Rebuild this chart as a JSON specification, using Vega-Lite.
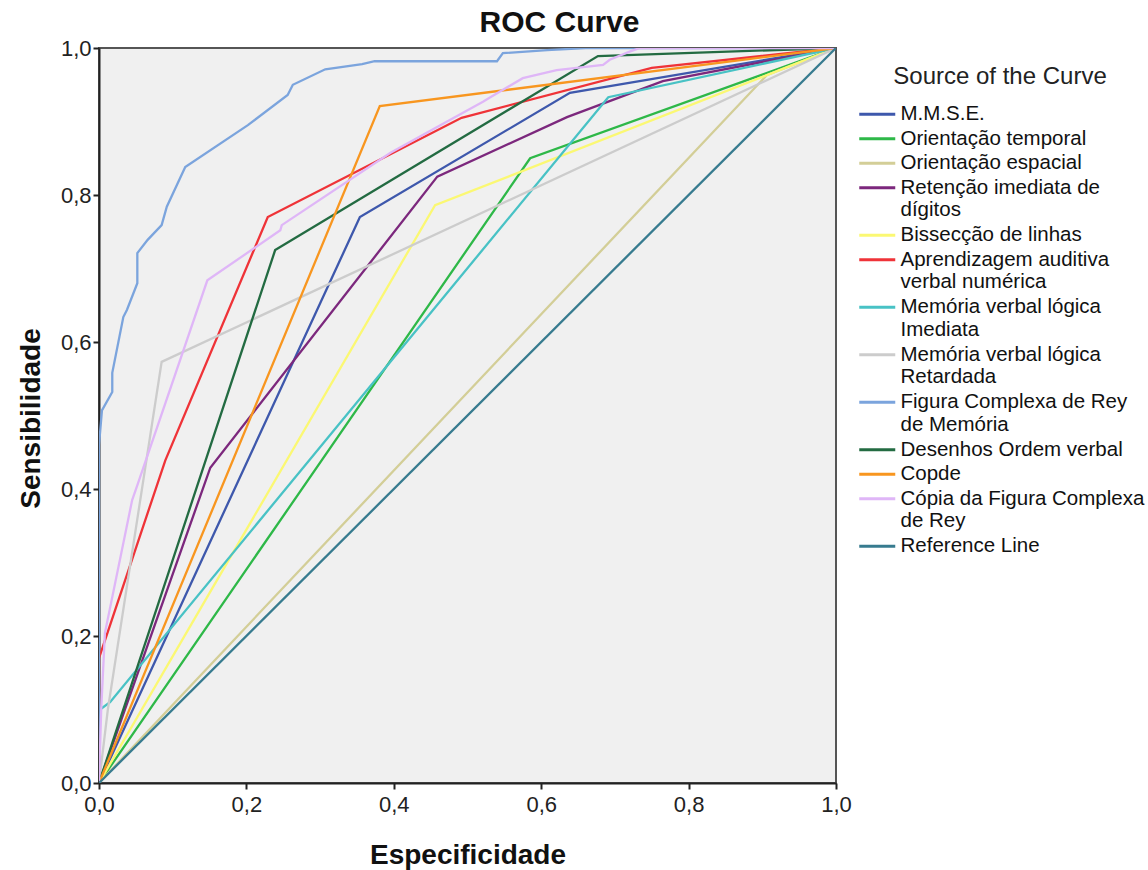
{
 "$schema": "https://vega.github.io/schema/vega-lite/v6.json",
 "width": 737,
 "height": 735,
 "autosize": {"type": "none"},
 "padding": {"left": 99, "top": 48, "right": 312, "bottom": 87},
 "background": "white",
 "title": {"text": "ROC Curve", "font": "Liberation Sans", "fontSize": 30, "fontWeight": "bold", "color": "#111111", "anchor": "middle", "dx": 92, "offset": -1},
 "data": {"values": [
  {"s": "M.M.S.E.", "i": 0, "x": 0, "y": 0},
  {"s": "M.M.S.E.", "i": 1, "x": 0.354, "y": 0.770},
  {"s": "M.M.S.E.", "i": 2, "x": 0.639, "y": 0.939},
  {"s": "M.M.S.E.", "i": 3, "x": 1, "y": 1},
  {"s": "Orientação temporal", "i": 0, "x": 0, "y": 0},
  {"s": "Orientação temporal", "i": 1, "x": 0.585, "y": 0.850},
  {"s": "Orientação temporal", "i": 2, "x": 1, "y": 1},
  {"s": "Orientação espacial", "i": 0, "x": 0, "y": 0},
  {"s": "Orientação espacial", "i": 1, "x": 0.906, "y": 0.963},
  {"s": "Orientação espacial", "i": 2, "x": 1, "y": 1},
  {"s": "Retenção imediata de dígitos", "i": 0, "x": 0, "y": 0},
  {"s": "Retenção imediata de dígitos", "i": 1, "x": 0.151, "y": 0.429},
  {"s": "Retenção imediata de dígitos", "i": 2, "x": 0.459, "y": 0.825},
  {"s": "Retenção imediata de dígitos", "i": 3, "x": 0.635, "y": 0.906},
  {"s": "Retenção imediata de dígitos", "i": 4, "x": 0.765, "y": 0.955},
  {"s": "Retenção imediata de dígitos", "i": 5, "x": 1, "y": 1},
  {"s": "Bissecção de linhas", "i": 0, "x": 0, "y": 0},
  {"s": "Bissecção de linhas", "i": 1, "x": 0.456, "y": 0.786},
  {"s": "Bissecção de linhas", "i": 2, "x": 1, "y": 1},
  {"s": "Aprendizagem auditiva verbal numérica", "i": 0, "x": 0, "y": 0},
  {"s": "Aprendizagem auditiva verbal numérica", "i": 1, "x": 0, "y": 0.170},
  {"s": "Aprendizagem auditiva verbal numérica", "i": 2, "x": 0.090, "y": 0.439},
  {"s": "Aprendizagem auditiva verbal numérica", "i": 3, "x": 0.229, "y": 0.770},
  {"s": "Aprendizagem auditiva verbal numérica", "i": 4, "x": 0.492, "y": 0.905},
  {"s": "Aprendizagem auditiva verbal numérica", "i": 5, "x": 0.750, "y": 0.973},
  {"s": "Aprendizagem auditiva verbal numérica", "i": 6, "x": 1, "y": 1},
  {"s": "Memória verbal lógica Imediata", "i": 0, "x": 0, "y": 0},
  {"s": "Memória verbal lógica Imediata", "i": 1, "x": 0, "y": 0.099},
  {"s": "Memória verbal lógica Imediata", "i": 2, "x": 0.015, "y": 0.110},
  {"s": "Memória verbal lógica Imediata", "i": 3, "x": 0.691, "y": 0.933},
  {"s": "Memória verbal lógica Imediata", "i": 4, "x": 1, "y": 1},
  {"s": "Memória verbal lógica Retardada", "i": 0, "x": 0, "y": 0},
  {"s": "Memória verbal lógica Retardada", "i": 1, "x": 0.012, "y": 0.100},
  {"s": "Memória verbal lógica Retardada", "i": 2, "x": 0.085, "y": 0.573},
  {"s": "Memória verbal lógica Retardada", "i": 3, "x": 1, "y": 1},
  {"s": "Figura Complexa de Rey de Memória", "i": 0, "x": 0, "y": 0},
  {"s": "Figura Complexa de Rey de Memória", "i": 1, "x": 0, "y": 0.460},
  {"s": "Figura Complexa de Rey de Memória", "i": 2, "x": 0.004, "y": 0.507},
  {"s": "Figura Complexa de Rey de Memória", "i": 3, "x": 0.018, "y": 0.532},
  {"s": "Figura Complexa de Rey de Memória", "i": 4, "x": 0.018, "y": 0.558},
  {"s": "Figura Complexa de Rey de Memória", "i": 5, "x": 0.033, "y": 0.634},
  {"s": "Figura Complexa de Rey de Memória", "i": 6, "x": 0.038, "y": 0.644},
  {"s": "Figura Complexa de Rey de Memória", "i": 7, "x": 0.052, "y": 0.680},
  {"s": "Figura Complexa de Rey de Memória", "i": 8, "x": 0.052, "y": 0.721},
  {"s": "Figura Complexa de Rey de Memória", "i": 9, "x": 0.066, "y": 0.739},
  {"s": "Figura Complexa de Rey de Memória", "i": 10, "x": 0.085, "y": 0.759},
  {"s": "Figura Complexa de Rey de Memória", "i": 11, "x": 0.092, "y": 0.784},
  {"s": "Figura Complexa de Rey de Memória", "i": 12, "x": 0.117, "y": 0.838},
  {"s": "Figura Complexa de Rey de Memória", "i": 13, "x": 0.202, "y": 0.895},
  {"s": "Figura Complexa de Rey de Memória", "i": 14, "x": 0.256, "y": 0.936},
  {"s": "Figura Complexa de Rey de Memória", "i": 15, "x": 0.263, "y": 0.950},
  {"s": "Figura Complexa de Rey de Memória", "i": 16, "x": 0.307, "y": 0.971},
  {"s": "Figura Complexa de Rey de Memória", "i": 17, "x": 0.357, "y": 0.978},
  {"s": "Figura Complexa de Rey de Memória", "i": 18, "x": 0.374, "y": 0.982},
  {"s": "Figura Complexa de Rey de Memória", "i": 19, "x": 0.540, "y": 0.982},
  {"s": "Figura Complexa de Rey de Memória", "i": 20, "x": 0.548, "y": 0.993},
  {"s": "Figura Complexa de Rey de Memória", "i": 21, "x": 0.608, "y": 0.997},
  {"s": "Figura Complexa de Rey de Memória", "i": 22, "x": 0.660, "y": 1.0},
  {"s": "Figura Complexa de Rey de Memória", "i": 23, "x": 1, "y": 1},
  {"s": "Desenhos Ordem verbal", "i": 0, "x": 0, "y": 0},
  {"s": "Desenhos Ordem verbal", "i": 1, "x": 0.239, "y": 0.725},
  {"s": "Desenhos Ordem verbal", "i": 2, "x": 0.677, "y": 0.989},
  {"s": "Desenhos Ordem verbal", "i": 3, "x": 1, "y": 1},
  {"s": "Copde", "i": 0, "x": 0, "y": 0},
  {"s": "Copde", "i": 1, "x": 0.381, "y": 0.921},
  {"s": "Copde", "i": 2, "x": 1, "y": 1},
  {"s": "Cópia da Figura Complexa de Rey", "i": 0, "x": 0, "y": 0},
  {"s": "Cópia da Figura Complexa de Rey", "i": 1, "x": 0.003, "y": 0.100},
  {"s": "Cópia da Figura Complexa de Rey", "i": 2, "x": 0.008, "y": 0.204},
  {"s": "Cópia da Figura Complexa de Rey", "i": 3, "x": 0.045, "y": 0.385},
  {"s": "Cópia da Figura Complexa de Rey", "i": 4, "x": 0.053, "y": 0.408},
  {"s": "Cópia da Figura Complexa de Rey", "i": 5, "x": 0.147, "y": 0.684},
  {"s": "Cópia da Figura Complexa de Rey", "i": 6, "x": 0.246, "y": 0.752},
  {"s": "Cópia da Figura Complexa de Rey", "i": 7, "x": 0.248, "y": 0.759},
  {"s": "Cópia da Figura Complexa de Rey", "i": 8, "x": 0.395, "y": 0.857},
  {"s": "Cópia da Figura Complexa de Rey", "i": 9, "x": 0.476, "y": 0.902},
  {"s": "Cópia da Figura Complexa de Rey", "i": 10, "x": 0.521, "y": 0.927},
  {"s": "Cópia da Figura Complexa de Rey", "i": 11, "x": 0.531, "y": 0.933},
  {"s": "Cópia da Figura Complexa de Rey", "i": 12, "x": 0.575, "y": 0.959},
  {"s": "Cópia da Figura Complexa de Rey", "i": 13, "x": 0.621, "y": 0.970},
  {"s": "Cópia da Figura Complexa de Rey", "i": 14, "x": 0.684, "y": 0.977},
  {"s": "Cópia da Figura Complexa de Rey", "i": 15, "x": 0.693, "y": 0.984},
  {"s": "Cópia da Figura Complexa de Rey", "i": 16, "x": 0.720, "y": 0.995},
  {"s": "Cópia da Figura Complexa de Rey", "i": 17, "x": 0.734, "y": 1.0},
  {"s": "Cópia da Figura Complexa de Rey", "i": 18, "x": 1, "y": 1},
  {"s": "Reference Line", "i": 0, "x": 0, "y": 0},
  {"s": "Reference Line", "i": 1, "x": 1, "y": 1}
 ]},
 "mark": {"type": "line", "strokeWidth": 2.3, "clip": true},
 "encoding": {
  "x": {"field": "x", "type": "quantitative",
   "scale": {"domain": [0, 1], "nice": false, "zero": false},
   "axis": {"values": [0, 0.2, 0.4, 0.6, 0.8, 1], "labelExpr": "replace(format(datum.value, '.1f'), '.', ',')", "labelFlush": false,
    "title": "Especificidade", "titleY": 80, "titleBaseline": "alphabetic", "labelPadding": 5}},
  "y": {"field": "y", "type": "quantitative",
   "scale": {"domain": [0, 1], "nice": false, "zero": false},
   "axis": {"values": [0, 0.2, 0.4, 0.6, 0.8, 1], "labelExpr": "replace(format(datum.value, '.1f'), '.', ',')", "labelFlush": false,
    "title": "Sensibilidade", "titleX": -60, "titleY": 370, "titleBaseline": "alphabetic", "titleAngle": -90, "titleAlign": "center", "labelPadding": 2}},
  "color": {"field": "s", "type": "nominal",
   "scale": {
    "domain": ["M.M.S.E.", "Orientação temporal", "Orientação espacial", "Retenção imediata de dígitos", "Bissecção de linhas", "Aprendizagem auditiva verbal numérica", "Memória verbal lógica Imediata", "Memória verbal lógica Retardada", "Figura Complexa de Rey de Memória", "Desenhos Ordem verbal", "Copde", "Cópia da Figura Complexa de Rey", "Reference Line"],
    "range": ["#3e58ac", "#2eb848", "#d3ce97", "#7c287d", "#fbf873", "#ef3338", "#48c2c5", "#cccccc", "#7ba4dd", "#236b42", "#f8961f", "#dfb6f7", "#377b8f"]},
   "legend": {
    "title": "Source of the Curve", "orient": "none", "legendX": 756, "legendY": 17, "padding": 0,
    "titleFont": "Liberation Sans", "titleFontSize": 24, "titleFontWeight": "normal", "titleColor": "#222222", "titleAnchor": "middle", "titlePadding": 15, "titleLimit": 400,
    "symbolType": "M-1,0H5", "symbolSize": 144, "symbolStrokeWidth": 3,
    "labelFont": "Liberation Sans", "labelFontSize": 20.5, "labelColor": "#111111", "labelOffset": 25, "labelLimit": 300, "labelLineHeight": 22,
    "rowPadding": 3.5,
    "labelExpr": "datum.label == 'Retenção imediata de dígitos' ? ['Retenção imediata de', 'dígitos'] : datum.label == 'Aprendizagem auditiva verbal numérica' ? ['Aprendizagem auditiva', 'verbal numérica'] : datum.label == 'Memória verbal lógica Imediata' ? ['Memória verbal lógica', 'Imediata'] : datum.label == 'Memória verbal lógica Retardada' ? ['Memória verbal lógica', 'Retardada'] : datum.label == 'Figura Complexa de Rey de Memória' ? ['Figura Complexa de Rey', 'de Memória'] : datum.label == 'Cópia da Figura Complexa de Rey' ? ['Cópia da Figura Complexa', 'de Rey'] : datum.label"}},
  "order": {"field": "i", "type": "quantitative"}
 },
 "config": {
  "view": {"fill": "#f0f0f0", "stroke": "#555555", "strokeWidth": 2},
  "axis": {
   "grid": false, "domainColor": "#222222", "domainWidth": 2, "tickColor": "#222222", "tickWidth": 2, "tickSize": 6,
   "labelFont": "Liberation Sans", "labelFontSize": 22, "labelColor": "#222222",
   "titleFont": "Liberation Sans", "titleFontSize": 28, "titleFontWeight": "bold", "titleColor": "#111111"
  }
 }
}
